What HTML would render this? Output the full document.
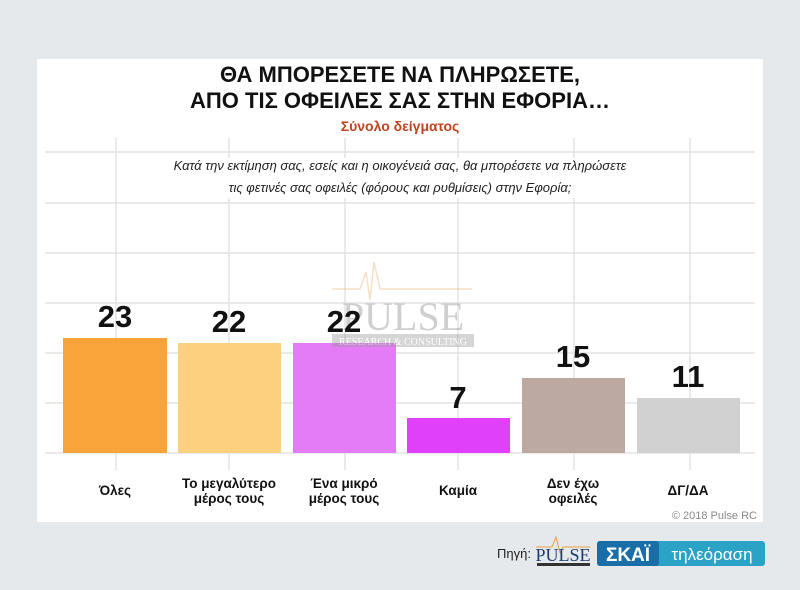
<!DOCTYPE html>
<html><head><meta charset="utf-8"><style>
body{margin:0;width:800px;height:590px;background:#e6e9ec;font-family:"Liberation Sans",sans-serif;position:relative;overflow:hidden}
.a{position:absolute}
</style></head><body>
<div class="a" style="left:37px;top:59px;width:726px;height:463px;background:#fff"></div>
<svg class="a" style="left:0;top:0" width="800" height="590">
<g stroke="#e3e3e3" stroke-width="1.5">
<line x1="45" x2="755" y1="152" y2="152"/><line x1="45" x2="755" y1="203" y2="203"/>
<line x1="45" x2="755" y1="253" y2="253"/><line x1="45" x2="755" y1="303" y2="303"/>
<line x1="45" x2="755" y1="353" y2="353"/><line x1="45" x2="755" y1="403" y2="403"/>
<line x1="45" x2="755" y1="453" y2="453"/>
<line x1="116" x2="116" y1="138" y2="470"/><line x1="229" x2="229" y1="138" y2="470"/>
<line x1="345" x2="345" y1="138" y2="470"/><line x1="458" x2="458" y1="138" y2="470"/>
<line x1="574" x2="574" y1="138" y2="470"/><line x1="690" x2="690" y1="138" y2="470"/>
</g>
<rect x="125" y="158" width="555" height="40" fill="#fff"/>
<rect x="63" y="338" width="104" height="115" fill="#f9a43a"/>
<rect x="178" y="343" width="103" height="110" fill="#fdd07f"/>
<rect x="293" y="343" width="103" height="110" fill="#e57cf7"/>
<rect x="407" y="418" width="103" height="35" fill="#e040fa"/>
<rect x="522" y="378" width="103" height="75" fill="#bca9a2"/>
<rect x="637" y="398" width="103" height="55" fill="#d1d1d1"/>
<g opacity="0.4" font-family="Liberation Serif,serif" fill="#888">
<polyline points="332,289 360,289 366,272 370,300 374,262 380,289 472,289" fill="none" stroke="#e9b070" stroke-width="1.5"/>
<text x="403" y="330" font-size="40" text-anchor="middle">PULSE</text>
<rect x="332" y="334" width="142" height="13" fill="#999"/>
<text x="403" y="345" font-size="10" fill="#fff" text-anchor="middle">RESEARCH &amp; CONSULTING</text>
</g>
<g font-weight="bold" font-size="31" text-anchor="middle" fill="#111">
<text x="115" y="327">23</text><text x="229" y="332">22</text><text x="344" y="332">22</text>
<text x="458" y="408">7</text><text x="573" y="367">15</text><text x="688" y="387">11</text>
</g>
<g font-weight="bold" font-size="13.5" text-anchor="middle" fill="#111">
<text x="115" y="495">Όλες</text>
<text x="229" y="488">Το μεγαλύτερο</text><text x="229" y="503">μέρος τους</text>
<text x="344" y="488">Ένα μικρό</text><text x="344" y="503">μέρος τους</text>
<text x="458" y="495">Καμία</text>
<text x="573" y="488">Δεν έχω</text><text x="573" y="503">οφειλές</text>
<text x="688" y="495">ΔΓ/ΔΑ</text>
</g>
<text x="757" y="519" font-size="11" fill="#888" text-anchor="end">© 2018 Pulse RC</text>
<g text-anchor="middle">
<text x="400" y="82" font-size="22" font-weight="bold" fill="#111">ΘΑ ΜΠΟΡΕΣΕΤΕ ΝΑ ΠΛΗΡΩΣΕΤΕ,</text>
<text x="400" y="108" font-size="22" font-weight="bold" fill="#111">ΑΠΟ ΤΙΣ ΟΦΕΙΛΕΣ ΣΑΣ ΣΤΗΝ ΕΦΟΡΙΑ…</text>
<text x="400" y="131" font-size="14" font-weight="bold" fill="#c0441f">Σύνολο δείγματος</text>
<text x="400" y="170" font-size="13" font-style="italic" fill="#222">Κατά την εκτίμηση σας, εσείς και η οικογένειά σας, θα μπορέσετε να πληρώσετε</text>
<text x="400" y="192" font-size="13" font-style="italic" fill="#222">τις φετινές σας οφειλές (φόρους και ρυθμίσεις) στην Εφορία;</text>
</g>
<text x="531" y="558" font-size="13" fill="#222" text-anchor="end">Πηγή:</text>
<polyline points="536,547 552,547 556,537 560,553 563,547 590,547" fill="none" stroke="#e9a040" stroke-width="1"/>
<text x="563" y="561" font-size="18" font-family="Liberation Serif,serif" fill="#1d3a6e" text-anchor="middle">PULSE</text>
<rect x="537" y="563" width="53" height="3" fill="#333"/>
<rect x="597" y="541" width="168" height="25" rx="3" fill="#2aa3c6"/>
<rect x="597" y="541" width="62" height="25" rx="3" fill="#1a6ea8"/>
<text x="628" y="561" font-size="19" font-weight="bold" fill="#fff" text-anchor="middle">ΣΚΑΪ</text>
<text x="712" y="560" font-size="17" fill="#fff" text-anchor="middle">τηλεόραση</text>
</svg>
</body></html>
